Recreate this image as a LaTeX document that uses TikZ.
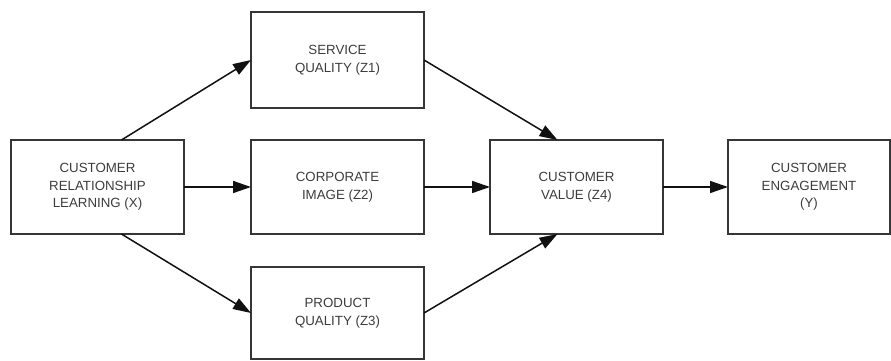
\documentclass[tikz,border=0pt]{standalone}
\usepackage{fontspec}
\setmainfont{Liberation Sans}
\usetikzlibrary{arrows.meta,positioning}
\definecolor{ink}{HTML}{3C3C3C}
\definecolor{frame}{HTML}{363636}
\definecolor{wire}{HTML}{111111}

\begin{document}
\begin{tikzpicture}[
  x=1pt, y=1pt,
  font=\fontsize{13.3}{17.5}\selectfont,
  >={Triangle[length=18pt, width=12pt]},
  var/.style={draw=frame, line width=1.6pt, align=center, text=ink, minimum width=173pt, minimum height=94pt, inner sep=0pt, outer sep=0pt},
  arr/.style={->, draw=wire, line width=1.5pt}
]
\useasboundingbox (0,0) rectangle (891,360);
\node[var] (x) at (97.5,173) {CUSTOMER\\RELATIONSHIP\\LEARNING (X)};
\node[var, right=67pt of x] (z2) {CORPORATE\\IMAGE (Z2)};
\node[var, above=32pt of z2, minimum height=96pt] (z1) {SERVICE\\QUALITY (Z1)};
\node[var, below=33pt of z2, minimum height=92pt] (z3) {PRODUCT\\QUALITY (Z3)};
\node[var, right=66pt of z2] (z4) {CUSTOMER\\VALUE (Z4)};
\node[var, right=65pt of z4, minimum width=162pt] (y) {CUSTOMER\\ENGAGEMENT\\(Y)};

\draw[arr] (x.63) -- (z1.west);
\draw[arr] (x) -- (z2);
\draw[arr] (x.-63) -- (z3.west);
\draw[arr] (z1.east) -- (z4.112);
\draw[arr] (z2) -- (z4);
\draw[arr] (z3.east) -- (z4.-112);
\draw[arr] (z4) -- (y);
\end{tikzpicture}
\end{document}
